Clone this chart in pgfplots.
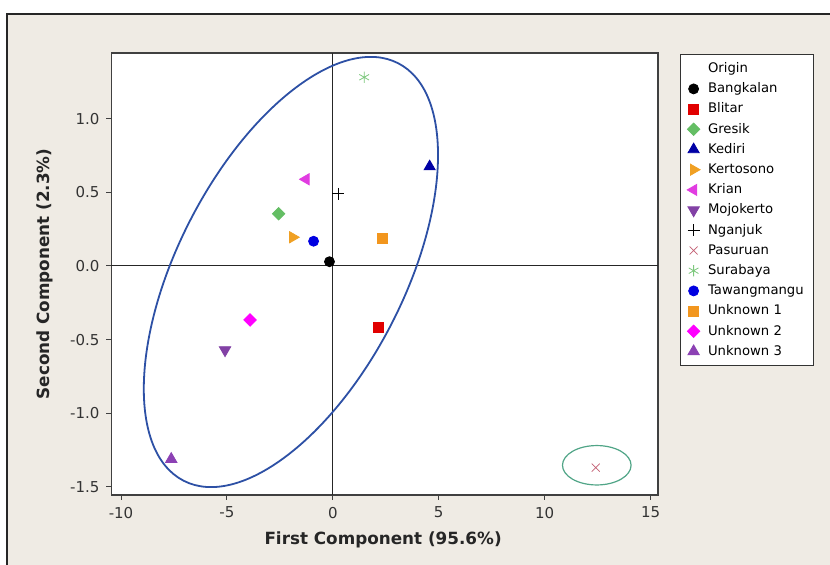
\documentclass[border=0pt]{standalone}
\usepackage{pgfplots}
\pgfplotsset{compat=1.18}
\usepackage{fontspec}
\setmainfont{DejaVu Sans}

\definecolor{panel}{RGB}{239,235,228}
\definecolor{ellblue}{RGB}{45,80,165}
\definecolor{ellgreen}{RGB}{80,165,135}
\definecolor{cBlitar}{RGB}{225,0,0}
\definecolor{cGresik}{RGB}{100,190,100}
\definecolor{cKediri}{RGB}{0,0,165}
\definecolor{cKerto}{RGB}{240,160,35}
\definecolor{cKrian}{RGB}{225,60,225}
\definecolor{cMojo}{RGB}{130,65,165}
\definecolor{cPasu}{RGB}{195,95,115}
\definecolor{cSura}{RGB}{125,200,125}
\definecolor{cTawang}{RGB}{0,0,225}
\definecolor{cUnk1}{RGB}{242,150,30}
\definecolor{cUnk2}{RGB}{255,0,255}
\definecolor{cUnk3}{RGB}{140,65,180}

\begin{document}
\begin{tikzpicture}
% page = 830x565 px, 1 px = 0.5pt, origin at the axis's lower-left corner
\useasboundingbox (-55.75pt,-35pt) rectangle (359.25pt,247.5pt);
\fill[white] (-55.75pt,-35pt) rectangle (359.25pt,247.5pt);
\fill[panel] (-52.25pt,-35pt) rectangle (359.25pt,240.5pt);
\draw[black!85, line width=0.7pt] (-52.25pt,-35pt) -- (-52.25pt,240.5pt) -- (359.25pt,240.5pt);

\begin{axis}[
  at={(0,0)}, anchor=south west,
  scale only axis,
  width=273.25pt, height=221pt,
  xmin=-10.45, xmax=15.35,
  ymin=-1.556, ymax=1.447,
  axis background/.style={fill=white},
  axis line style={black!75, line width=0.6pt},
  xtick={-10,-5,0,5,10,15},
  ytick={-1.5,-1,-0.5,0,0.5,1},
  tick align=outside,
  major tick length=2.5pt,
  tick style={black!75, line width=0.5pt},
  xtick pos=bottom, ytick pos=left,
  ticklabel style={font=\fontsize{7.5}{9}\selectfont, text=black!80},
  /pgf/number format/assume math mode=true,
  yticklabel style={/pgf/number format/.cd, fixed, fixed zerofill, precision=1},
  xlabel={First Component (95.6\%)},
  ylabel={Second Component (2.3\%)},
  every axis x label/.style={at={(axis description cs:0.497,-0.102)}, anchor=center,
    font=\bfseries\fontsize{8.4}{10}\selectfont, text=black!85},
  every axis y label/.style={at={(axis description cs:-0.122,0.5)}, rotate=90, anchor=center,
    font=\bfseries\fontsize{8.4}{10}\selectfont, text=black!85},
  legend style={at={(1.0403,0.9977)}, anchor=north west,
    draw=black!80, fill=white, line width=0.6pt,
    font=\fontsize{6.6}{7}\selectfont,
    inner xsep=2.5pt, inner ysep=2pt, row sep=0pt,
    nodes={inner ysep=1.3pt, inner xsep=2.5pt, text height=5.6pt, text depth=1.9pt},
    /tikz/every odd column/.append style={column sep=1.5pt}},
  legend cell align=left,
  legend image code/.code={\draw[mark repeat=2,mark phase=2,line width=0.4pt,#1] plot coordinates {(0pt,0pt) (4pt,0pt) (8pt,0pt)};},
  clip=false,
]
\addlegendimage{empty legend}

\addplot[only marks, mark=*, mark size=2.5pt, black] coordinates {(-0.16,0.029)};
\addplot[only marks, mark=square*, mark size=2.5pt, cBlitar] coordinates {(2.17,-0.419)};
\addplot[only marks, mark=square*, mark size=2.2pt, cGresik, mark options={rotate=45}] coordinates {(-2.56,0.355)};
\addplot[only marks, mark=triangle*, mark size=3.2pt, cKediri] coordinates {(4.57,0.675)};
\addplot[only marks, mark=triangle*, mark size=3.2pt, cKerto, mark options={rotate=-90}] coordinates {(-1.89,0.195)};
\addplot[only marks, mark=triangle*, mark size=3.2pt, cKrian, mark options={rotate=90}] coordinates {(-1.27,0.589)};
\addplot[only marks, mark=triangle*, mark size=3.3pt, cMojo, mark options={rotate=180}] coordinates {(-5.09,-0.571)};
\addplot[only marks, mark=+, mark size=3pt, black, line width=0.5pt] coordinates {(0.25,0.489)};
\addplot[only marks, mark=x, mark size=2.8pt, cPasu, line width=0.4pt] coordinates {(12.41,-1.370)};
\addplot[only marks, mark=asterisk, mark size=2.8pt, cSura, line width=0.4pt] coordinates {(1.48,1.282)};
\addplot[only marks, mark=*, mark size=2.5pt, cTawang] coordinates {(-0.91,0.168)};
\addplot[only marks, mark=square*, mark size=2.5pt, cUnk1] coordinates {(2.32,0.185)};
\addplot[only marks, mark=square*, mark size=2.2pt, cUnk2, mark options={rotate=45}] coordinates {(-3.91,-0.367)};
\addplot[only marks, mark=triangle*, mark size=3.3pt, cUnk3] coordinates {(-7.63,-1.313)};

\legend{Origin, Bangkalan, Blitar, Gresik, Kediri, Kertosono, Krian, Mojokerto,
  Nganjuk, Pasuruan, Surabaya, Tawangmangu, Unknown 1, Unknown 2, Unknown 3}

% reference lines through the origin
\draw[black!85, line width=0.5pt] (axis cs:0,-1.556) -- (axis cs:0,1.447);
\draw[black!85, line width=0.5pt] (axis cs:-10.45,0) -- (axis cs:15.35,0);

% confidence ellipses
\draw[ellblue, line width=0.9pt, rotate around={62.8:(axis cs:-1.98,-0.041)}]
  (axis cs:-1.98,-0.041) ellipse [x radius=117.35pt, y radius=56.6pt];
\draw[ellgreen, line width=0.6pt] (axis cs:12.46,-1.354) ellipse [x radius=17.15pt, y radius=9.85pt];
\end{axis}
\end{tikzpicture}
\end{document}
